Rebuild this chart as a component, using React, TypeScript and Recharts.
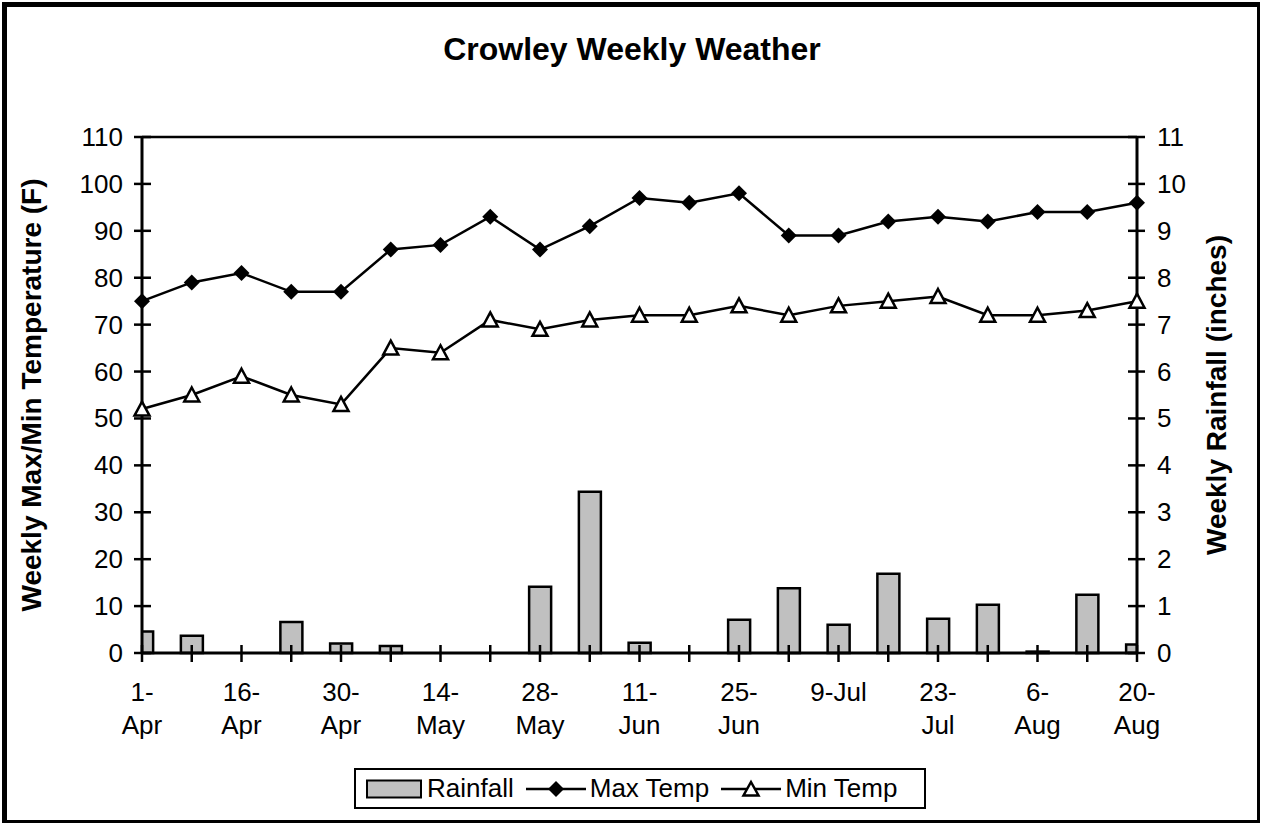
import { ComposedChart, Bar, Line, XAxis, YAxis, Legend, ReferenceLine } from "recharts";

// weekly categories (only every other one is labelled on the axis)
const weeks = [
    "1-Apr", "9-Apr", "16-Apr", "23-Apr", "30-Apr", "7-May", "14-May",
    "21-May", "28-May", "4-Jun", "11-Jun", "18-Jun", "25-Jun", "2-Jul",
    "9-Jul", "16-Jul", "23-Jul", "30-Jul", "6-Aug", "13-Aug", "20-Aug",
];

const maxTemp = [75, 79, 81, 77, 77, 86, 87, 93, 86, 91, 97, 96, 98, 89, 89, 92, 93, 92, 94, 94, 96];
const minTemp = [52, 55, 59, 55, 53, 65, 64, 71, 69, 71, 72, 72, 74, 72, 74, 75, 76, 72, 72, 73, 75];
const rainfall = [
    0.46, 0.37, 0, 0.66, 0.2, 0.15, 0, 0, 1.41, 3.44, 0.22,
    0, 0.71, 1.38, 0.6, 1.69, 0.73, 1.03, 0.03, 1.24, 0.18,
];

const tempTicks = [0, 10, 20, 30, 40, 50, 60, 70, 80, 90, 100, 110];
const rainTicks = [0, 1, 2, 3, 4, 5, 6, 7, 8, 9, 10, 11];
const weekTicks = weeks.map((_, i) => i);

const data = weeks.map((week, i) => ({
    idx: i,
    week,
    rain: rainfall[i],
    max: maxTemp[i],
    min: minTemp[i],
}));

const FONT = "'Liberation Sans', Arial, sans-serif";
const BAR_FILL = "#C0C0C0";

let measureCtx: CanvasRenderingContext2D | null = null;
const textWidth = (s: string) => {
    if (!measureCtx) measureCtx = document.createElement("canvas").getContext("2d");
    if (!measureCtx) return s.length * 13;
    measureCtx.font = `26px ${FONT}`;
    return measureCtx.measureText(s).width;
};

// excel wraps the date label after the dash when it is too wide
const splitLabel = (label: string) => {
    if (textWidth(label) <= 60) return [label];
    const k = label.indexOf("-");
    return [label.slice(0, k + 1), label.slice(k + 1)];
};

const XTick = ({ x, y, payload }: any) => {
    const i = payload.value as number;
    const lines = i % 2 === 0 ? splitLabel(weeks[i]) : [];
    return (
        <g>
            <line x1={x} x2={x} y1={y - 8} y2={y + 9} stroke="#000" strokeWidth={2.5} />
            {lines.length > 0 && (
                <text x={x} y={y + 48} textAnchor="middle" fontSize={26} fontFamily={FONT} fill="#000">
                    {lines.map((l, k) => (
                        <tspan key={k} x={x} dy={k === 0 ? 0 : 33}>
                            {l}
                        </tspan>
                    ))}
                </text>
            )}
        </g>
    );
};

const LeftTick = ({ x, y, payload }: any) => (
    <g>
        <line x1={x - 8} x2={x + 9} y1={y} y2={y} stroke="#000" strokeWidth={2.5} />
        <text x={x - 19} y={y} dy={9} textAnchor="end" fontSize={26} fontFamily={FONT} fill="#000">
            {payload.value}
        </text>
    </g>
);

const RightTick = ({ x, y, payload }: any) => (
    <g>
        <line x1={x - 9} x2={x + 8} y1={y} y2={y} stroke="#000" strokeWidth={2.5} />
        <text x={x + 20} y={y} dy={9} textAnchor="start" fontSize={26} fontFamily={FONT} fill="#000">
            {payload.value}
        </text>
    </g>
);

const Diamond = ({ cx, cy, index }: any) => (
    <path
        key={`d-${index}`}
        d={`M${cx},${cy - 8}L${cx + 8},${cy}L${cx},${cy + 8}L${cx - 8},${cy}Z`}
        fill="#000"
    />
);

const Triangle = ({ cx, cy, index }: any) => (
    <path
        key={`t-${index}`}
        d={`M${cx},${cy - 7.5}L${cx + 7.5},${cy + 6.5}L${cx - 7.5},${cy + 6.5}Z`}
        fill="#fff"
        stroke="#000"
        strokeWidth={2.5}
    />
);

const AxisTitle = ({ viewBox, value, shift }: any) => {
    const cx = viewBox.x + shift;
    const cy = viewBox.y + viewBox.height / 2;
    return (
        <text
            x={cx}
            y={cy}
            dy={10}
            transform={`rotate(-90 ${cx} ${cy})`}
            textAnchor="middle"
            fontSize={28}
            fontWeight="bold"
            fontFamily={FONT}
            fill="#000"
        >
            {value}
        </text>
    );
};

const LegendBox = () => (
    <div
        style={{
            boxSizing: "border-box",
            width: 572,
            height: 41,
            border: "2px solid #000",
            background: "#fff",
            display: "flex",
            alignItems: "center",
            paddingLeft: 10,
            fontFamily: FONT,
            fontSize: 26,
            color: "#000",
            whiteSpace: "nowrap",
        }}
    >
        <svg width={56} height={20} style={{ marginRight: 5 }}>
            <rect x={1} y={1.5} width={54} height={17} fill={BAR_FILL} stroke="#000" strokeWidth={2} />
        </svg>
        <span>Rainfall</span>
        <svg width={60} height={20} style={{ marginLeft: 12, marginRight: 4 }}>
            <line x1={0} x2={60} y1={10} y2={10} stroke="#000" strokeWidth={2.5} />
            <path d="M30,2L38,10L30,18L22,10Z" fill="#000" />
        </svg>
        <span>Max Temp</span>
        <svg width={60} height={20} style={{ marginLeft: 12, marginRight: 4 }}>
            <line x1={0} x2={60} y1={10} y2={10} stroke="#000" strokeWidth={2.5} />
            <path d="M30,3L37.5,16.5L22.5,16.5Z" fill="#fff" stroke="#000" strokeWidth={2.5} />
        </svg>
        <span>Min Temp</span>
    </div>
);

export default function App() {
    return (
        <div style={{ position: "absolute", left: 0, top: 0, width: 1263, height: 825, background: "#fff" }}>
            <ComposedChart
                width={1263}
                height={825}
                data={data}
                margin={{ top: 137, right: 66, bottom: 92, left: 82 }}
            >
                <XAxis
                    dataKey="idx"
                    type="number"
                    domain={[0, 20]}
                    ticks={weekTicks}
                    interval={0}
                    tickSize={0}
                    tickMargin={0}
                    height={80}
                    tick={(p: any) => <XTick {...p} />}
                    axisLine={{ stroke: "#000", strokeWidth: 3 }}
                    tickLine={false}
                />
                <XAxis
                    xAxisId="bars"
                    dataKey="idx"
                    type="number"
                    domain={[0, 20]}
                    ticks={weekTicks}
                    allowDataOverflow
                    hide
                />
                <YAxis
                    yAxisId="left"
                    domain={[0, 110]}
                    ticks={tempTicks}
                    interval={0}
                    width={60}
                    tickSize={0}
                    tickMargin={0}
                    tick={(p: any) => <LeftTick {...p} />}
                    tickLine={false}
                    axisLine={{ stroke: "#000", strokeWidth: 3 }}
                    label={{
                        content: (p: any) => (
                            <AxisTitle viewBox={p.viewBox} shift={-51} value="Weekly Max/Min Temperature (F)" />
                        ),
                    }}
                />
                <YAxis
                    yAxisId="right"
                    orientation="right"
                    domain={[0, 11]}
                    ticks={rainTicks}
                    interval={0}
                    width={60}
                    tickSize={0}
                    tickMargin={0}
                    tick={(p: any) => <RightTick {...p} />}
                    tickLine={false}
                    axisLine={{ stroke: "#000", strokeWidth: 3 }}
                    label={{
                        content: (p: any) => (
                            <AxisTitle viewBox={p.viewBox} shift={79} value="Weekly Rainfall (inches)" />
                        ),
                    }}
                />
                <ReferenceLine yAxisId="left" y={110} stroke="#000" strokeWidth={2.5} />
                <Bar
                    name="Rainfall"
                    dataKey="rain"
                    xAxisId="bars"
                    yAxisId="right"
                    barSize={22}
                    fill={BAR_FILL}
                    stroke="#000"
                    strokeWidth={2.5}
                    isAnimationActive={false}
                />
                <Line
                    name="Max Temp"
                    dataKey="max"
                    yAxisId="left"
                    type="linear"
                    stroke="#000"
                    strokeWidth={2.5}
                    dot={(p: any) => <Diamond {...p} />}
                    activeDot={false}
                    isAnimationActive={false}
                />
                <Line
                    name="Min Temp"
                    dataKey="min"
                    yAxisId="left"
                    type="linear"
                    stroke="#000"
                    strokeWidth={2.5}
                    dot={(p: any) => <Triangle {...p} />}
                    activeDot={false}
                    isAnimationActive={false}
                />
                <Legend
                    layout="horizontal"
                    verticalAlign="middle"
                    align="center"
                    content={() => <LegendBox />}
                    wrapperStyle={{ left: 354, top: 768, width: 572, height: 41 }}
                />
            </ComposedChart>
            <svg
                width={1263}
                height={825}
                style={{ position: "absolute", left: 0, top: 0, pointerEvents: "none" }}
            >
                <text x={632} y={60} textAnchor="middle" fontSize={32} fontWeight="bold" fontFamily={FONT} fill="#000">
                    Crowley Weekly Weather
                </text>
            </svg>
            <div
                style={{
                    position: "absolute",
                    left: 2,
                    top: 2,
                    width: 1258,
                    height: 821,
                    boxSizing: "border-box",
                    borderStyle: "solid",
                    borderColor: "#000",
                    borderWidth: "5px 3px 3px 5px",
                    pointerEvents: "none",
                }}
            />
        </div>
    );
}
